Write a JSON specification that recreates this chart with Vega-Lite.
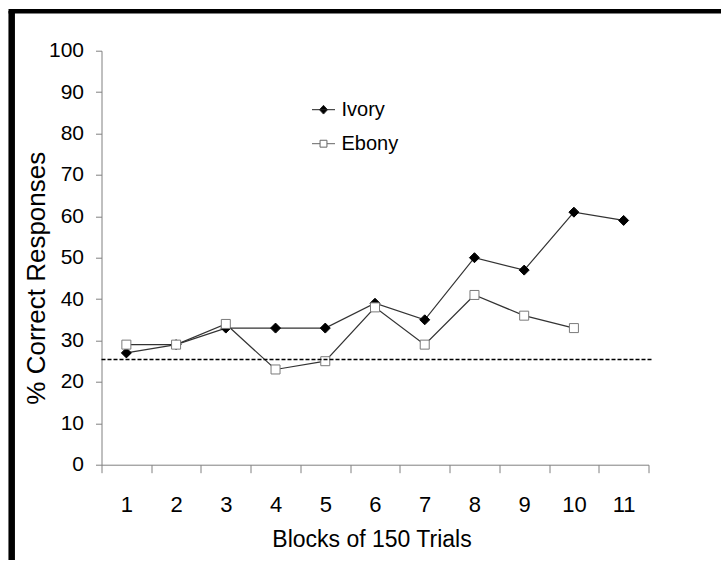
{
  "$schema": "https://vega.github.io/schema/vega-lite/v6.json",
  "width": 547,
  "height": 414,
  "autosize": {"type": "none"},
  "padding": {"left": 101.5, "top": 50.7, "right": 72.5, "bottom": 96.3},
  "background": "white",
  "config": {
    "view": {"stroke": null},
    "font": "Liberation Sans",
    "axis": {"grid": false}
  },
  "data": {
    "values": [
      {"block": 1, "series": "Ivory", "pct": 27},
      {"block": 2, "series": "Ivory", "pct": 29},
      {"block": 3, "series": "Ivory", "pct": 33},
      {"block": 4, "series": "Ivory", "pct": 33},
      {"block": 5, "series": "Ivory", "pct": 33},
      {"block": 6, "series": "Ivory", "pct": 39},
      {"block": 7, "series": "Ivory", "pct": 35},
      {"block": 8, "series": "Ivory", "pct": 50},
      {"block": 9, "series": "Ivory", "pct": 47},
      {"block": 10, "series": "Ivory", "pct": 61},
      {"block": 11, "series": "Ivory", "pct": 59},
      {"block": 1, "series": "Ebony", "pct": 29},
      {"block": 2, "series": "Ebony", "pct": 29},
      {"block": 3, "series": "Ebony", "pct": 34},
      {"block": 4, "series": "Ebony", "pct": 23},
      {"block": 5, "series": "Ebony", "pct": 25},
      {"block": 6, "series": "Ebony", "pct": 38},
      {"block": 7, "series": "Ebony", "pct": 29},
      {"block": 8, "series": "Ebony", "pct": 41},
      {"block": 9, "series": "Ebony", "pct": 36},
      {"block": 10, "series": "Ebony", "pct": 33}
    ]
  },
  "layer": [
    {
      "mark": {"type": "line", "color": "#333333", "strokeWidth": 1.2},
      "encoding": {
        "x": {
          "field": "block",
          "type": "quantitative",
          "scale": {"domain": [0.5, 11.5], "nice": false, "zero": false},
          "axis": {
            "title": "Blocks of 150 Trials",
            "values": [0.5, 1.5, 2.5, 3.5, 4.5, 5.5, 6.5, 7.5, 8.5, 9.5, 10.5, 11.5],
            "labelExpr": "datum.value < 11 ? format(datum.value + 0.5, 'd') : ''",
            "labelOffset": 24.86,
            "labelFlush": false,
            "labelOverlap": false,
            "labelBound": false,
            "labelFontSize": 22,
            "labelColor": "black",
            "labelPadding": 22,
            "tickSize": 8,
            "tickColor": "#808080",
            "domainColor": "#808080",
            "titleFontSize": 23,
            "titleFontWeight": "normal",
            "titleColor": "black",
            "titlePadding": 13,
            "titleX": 270
          }
        },
        "y": {
          "field": "pct",
          "type": "quantitative",
          "scale": {"domain": [0, 100], "nice": false},
          "axis": {
            "title": "% Correct Responses",
            "values": [0, 10, 20, 30, 40, 50, 60, 70, 80, 90, 100],
            "labelFontSize": 21,
            "labelColor": "black",
            "labelPadding": 12,
            "tickSize": 6,
            "tickColor": "#808080",
            "domainColor": "#808080",
            "titleFontSize": 26,
            "titleFontWeight": "normal",
            "titleColor": "black",
            "titlePadding": -1,
            "titleY": 227
          }
        },
        "detail": {"field": "series"}
      }
    },
    {
      "mark": {"type": "point", "filled": true, "opacity": 1, "strokeWidth": 1},
      "encoding": {
        "x": {"field": "block", "type": "quantitative"},
        "y": {"field": "pct", "type": "quantitative"},
        "shape": {
          "condition": {"test": "datum.series === 'Ivory'", "value": "diamond"},
          "value": "square"
        },
        "fill": {
          "condition": {"test": "datum.series === 'Ivory'", "value": "black"},
          "value": "white"
        },
        "stroke": {
          "condition": {"test": "datum.series === 'Ivory'", "value": "black"},
          "value": "#7a7a7a"
        },
        "size": {
          "condition": {"test": "datum.series === 'Ivory'", "value": 100},
          "value": 81
        }
      }
    },
    {
      "mark": {"type": "point", "filled": true, "opacity": 0, "strokeWidth": 1},
      "encoding": {
        "x": {"field": "block", "type": "quantitative"},
        "y": {"field": "pct", "type": "quantitative"},
        "shape": {
          "field": "series",
          "type": "nominal",
          "scale": {
            "domain": ["Ivory", "Ebony"],
            "range": ["M-1,0H1M0,-0.38L0.35,0L0,0.38L-0.35,0Z", "M-1,0H-0.3M0.3,0H1M-0.3,-0.3H0.3V0.3H-0.3Z"]
          },
          "legend": {
            "title": null,
            "orient": "none",
            "legendX": 210,
            "legendY": 47,
            "padding": 0,
            "labelFont": "Liberation Sans",
            "labelFontSize": 20,
            "labelColor": "black",
            "labelOffset": 6,
            "rowPadding": 12,
            "symbolSize": 529,
            "symbolStrokeWidth": 1,
            "symbolOpacity": 1
          }
        },
        "fill": {
          "field": "series",
          "type": "nominal",
          "scale": {"domain": ["Ivory", "Ebony"], "range": ["black", "white"]},
          "legend": {"title": null}
        },
        "stroke": {
          "field": "series",
          "type": "nominal",
          "scale": {"domain": ["Ivory", "Ebony"], "range": ["#222222", "#666666"]},
          "legend": {"title": null}
        }
      }
    },
    {
      "data": {"values": [{}]},
      "mark": {"type": "rule", "color": "black", "strokeWidth": 1.5, "strokeDash": [4, 2]},
      "encoding": {
        "x": {"datum": 0.5, "type": "quantitative"},
        "x2": {"datum": 11.58},
        "y": {"datum": 25.4, "type": "quantitative"}
      }
    },
    {
      "data": {"values": [{}]},
      "mark": {"type": "rule", "color": "black", "strokeWidth": 6.5, "clip": false},
      "encoding": {
        "x": {"datum": -1.306, "type": "quantitative"},
        "y": {"datum": 109.6, "type": "quantitative"},
        "y2": {"datum": -23}
      }
    },
    {
      "data": {"values": [{}]},
      "mark": {"type": "rule", "color": "black", "strokeWidth": 4.5, "clip": false},
      "encoding": {
        "x": {"datum": -1.37, "type": "quantitative"},
        "x2": {"datum": 12.96},
        "y": {"datum": 109.5, "type": "quantitative"}
      }
    }
  ]
}
